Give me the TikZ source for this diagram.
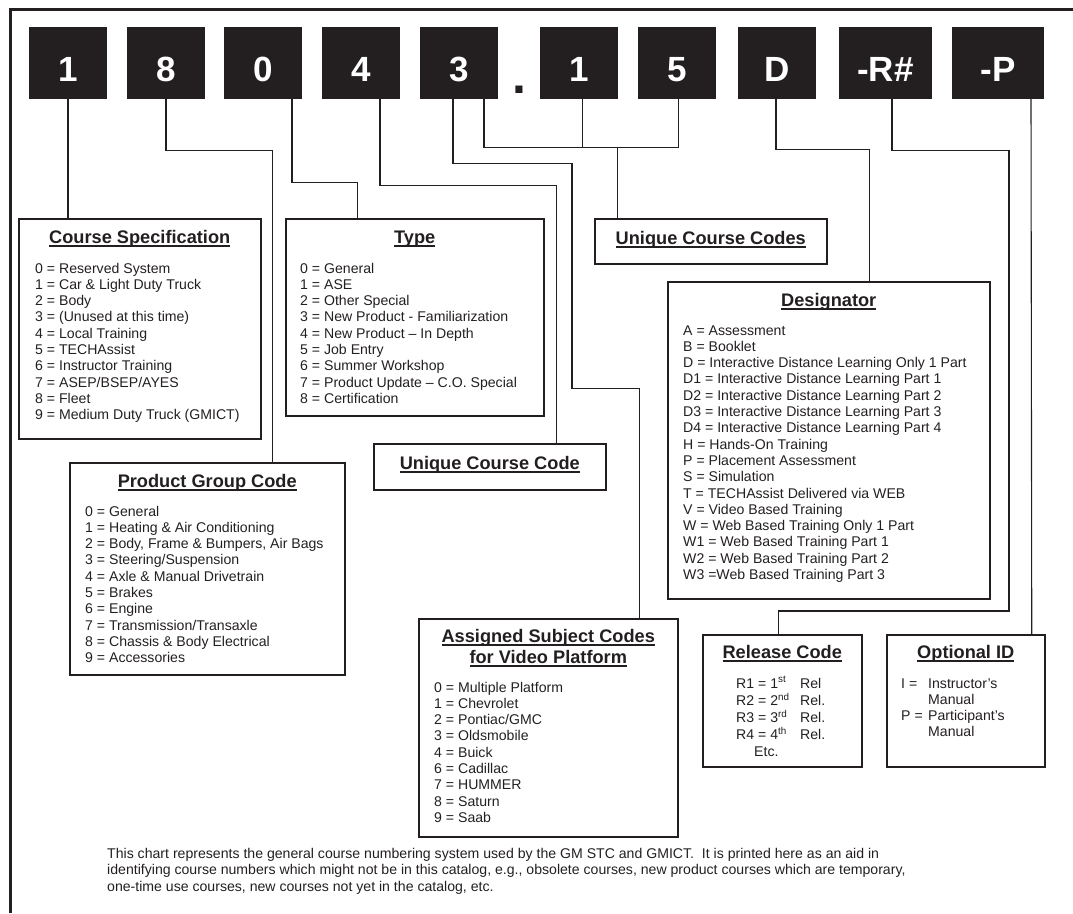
\documentclass[tikz,border=0pt]{standalone}
\usepackage{fontspec}
\setmainfont{Liberation Sans}
\definecolor{ink}{RGB}{35,31,32}
\newsavebox\headbox
\newcommand{\headline}[1]{\sbox\headbox{#1}\rlap{\rule[-3.6pt]{\wd\headbox}{1.4pt}}\usebox\headbox}
\begin{document}
\begin{tikzpicture}[x=1pt,y=-1pt,
    digit/.style={fill=ink,text=white,minimum width=78,minimum height=72,inner sep=0pt,text height=36pt,text depth=0pt,font=\fontsize{35}{40}\selectfont\bfseries},
    info/.style={draw=ink,line width=1.5pt,anchor=north west,inner sep=0pt},
    head/.style={anchor=base,inner sep=0pt,text=ink,font=\fontsize{18.2}{21}\selectfont\bfseries},
    items/.style={anchor=base west,inner sep=0pt,text=ink,font=\fontsize{14.1}{16.3}\selectfont},
    link/.style={draw=ink,line width=1.1pt}]
    \useasboundingbox (0,0) rectangle (1073,913);
    \draw[ink,line width=3.5pt] (10.5,913) -- (10.5,9.5) -- (1073,9.5);
    \node[digit] (d1) at (68,63) {1};
    \node[digit] (d8) at (166,63) {8};
    \node[digit] (d0) at (263,63) {0};
    \node[digit] (d4) at (361,63) {4};
    \node[digit] (d3) at (459,63) {3};
    \node[anchor=base,inner sep=0pt,text=ink,font=\fontsize{50}{50}\selectfont\bfseries] (dot) at (519,93) {.};
    \node[digit] (e1) at (579,63) {1};
    \node[digit] (e5) at (677,63) {5};
    \node[digit] (dD) at (777,63) {D};
    \node[digit,minimum width=93] (dR) at (885.5,63) {-R\#};
    \node[digit,minimum width=92] (dP) at (998,63) {-P};
    \node[info,minimum width=242,minimum height=220] (spec) at (18,218) {};
    \node[head] (spechead) at ([yshift=-25pt]spec.north) {\headline{Course Specification}};
    \node[items] (speclist) at ([xshift=17pt,yshift=-55pt]spec.north west) {\begin{tabular}[t]{@{}l@{}}
        0 = Reserved System\\
        1 = Car \& Light Duty Truck\\
        2 = Body\\
        3 = (Unused at this time)\\
        4 = Local Training\\
        5 = TECHAssist\\
        6 = Instructor Training\\
        7 = ASEP/BSEP/AYES\\
        8 = Fleet\\
        9 = Medium Duty Truck (GMICT)
    \end{tabular}};
    \node[info,minimum width=258,minimum height=197] (type) at (285,218) {};
    \node[head] (typehead) at ([yshift=-25pt]type.north) {\headline{Type}};
    \node[items] (typelist) at ([xshift=15pt,yshift=-55pt]type.north west) {\begin{tabular}[t]{@{}l@{}}
        0 = General\\
        1 = ASE\\
        2 = Other Special\\
        3 = New Product - Familiarization\\
        4 = New Product – In Depth\\
        5 = Job Entry\\
        6 = Summer Workshop\\
        7 = Product Update – C.O. Special\\
        8 = Certification
    \end{tabular}};
    \node[info,minimum width=232,minimum height=45] (codes) at (594,218) {};
    \node[head] (codeshead) at ([yshift=-26pt]codes.north) {\headline{Unique Course Codes}};
    \node[info,minimum width=232,minimum height=46] (ucc) at (373,443) {};
    \node[head] (ucchead) at ([yshift=-26pt]ucc.north) {\headline{Unique Course Code}};
    \node[info,minimum width=275,minimum height=212] (prod) at (69,462) {};
    \node[head] (prodhead) at ([yshift=-25pt]prod.north) {\headline{Product Group Code}};
    \node[items] (prodlist) at ([xshift=16pt,yshift=-54pt]prod.north west) {\begin{tabular}[t]{@{}l@{}}
        0 = General\\
        1 = Heating \& Air Conditioning\\
        2 = Body, Frame \& Bumpers, Air Bags\\
        3 = Steering/Suspension\\
        4 = Axle \& Manual Drivetrain\\
        5 = Brakes\\
        6 = Engine\\
        7 = Transmission/Transaxle\\
        8 = Chassis \& Body Electrical\\
        9 = Accessories
    \end{tabular}};
    \node[info,minimum width=322,minimum height=317] (desig) at (667,281) {};
    \node[head] (desighead) at ([yshift=-25pt]desig.north) {\headline{Designator}};
    \node[items] (desiglist) at ([xshift=16pt,yshift=-54pt]desig.north west) {\begin{tabular}[t]{@{}l@{}}
        A = Assessment\\
        B = Booklet\\
        D = Interactive Distance Learning Only 1 Part\\
        D1 = Interactive Distance Learning Part 1\\
        D2 = Interactive Distance Learning Part 2\\
        D3 = Interactive Distance Learning Part 3\\
        D4 = Interactive Distance Learning Part 4\\
        H = Hands-On Training\\
        P = Placement Assessment\\
        S = Simulation\\
        T = TECHAssist Delivered via WEB\\
        V = Video Based Training\\
        W = Web Based Training Only 1 Part\\
        W1 = Web Based Training Part 1\\
        W2 = Web Based Training Part 2\\
        W3 =Web Based Training Part 3
    \end{tabular}};
    \node[info,minimum width=259,minimum height=218] (subj) at (418,618) {};
    \node[head] (subjhead) at ([yshift=-24pt]subj.north) {\begin{tabular}[t]{@{}c@{}}\headline{Assigned Subject Codes}\\ \headline{for Video Platform}\end{tabular}};
    \node[items] (subjlist) at ([xshift=16pt,yshift=-74pt]subj.north west) {\begin{tabular}[t]{@{}l@{}}
        0 = Multiple Platform\\
        1 = Chevrolet\\
        2 = Pontiac/GMC\\
        3 = Oldsmobile\\
        4 = Buick\\
        6 = Cadillac\\
        7 = HUMMER\\
        8 = Saturn\\
        9 = Saab
    \end{tabular}};
    \node[info,minimum width=159,minimum height=132] (rel) at (702,634) {};
    \node[head] (relhead) at ([yshift=-24pt]rel.north) {\headline{Release Code}};
    \node[items] (rellist) at ([xshift=34pt,yshift=-54pt]rel.north west) {\begin{tabular}[t]{@{}p{64pt}@{}l@{}}
        R1 = 1\textsuperscript{st} & Rel\\
        R2 = 2\textsuperscript{nd} & Rel.\\
        R3 = 3\textsuperscript{rd} & Rel.\\
        R4 = 4\textsuperscript{th} & Rel.\\
        \hspace*{18pt}Etc. &
    \end{tabular}};
    \node[info,minimum width=158,minimum height=132] (opt) at (886,634) {};
    \node[head] (opthead) at ([yshift=-24pt]opt.north) {\headline{Optional ID}};
    \node[items] (optlist) at ([xshift=15pt,yshift=-54pt]opt.north west) {\begin{tabular}[t]{@{}p{27pt}@{}l@{}}
        I = & Instructor’s\\
            & Manual\\
        P = & Participant’s\\
            & Manual
    \end{tabular}};
    \node[items,font=\fontsize{14.1}{16.5}\selectfont] (note) at (107,858) {\begin{tabular}[t]{@{}l@{}}
        This chart represents the general course numbering system used by the GM STC and GMICT.\ \ It is printed here as an aid in\\
        identifying course numbers which might not be in this catalog, e.g., obsolete courses, new product courses which are temporary,\\
        one-time use courses, new courses not yet in the catalog, etc.
    \end{tabular}};
    \draw[link] (d1.south) -- (d1.south |- spec.north);
    \draw[link] (d8.south) -- ++(0,51) -| ([xshift=65.5pt]prod.north);
    \draw[link] ([xshift=29pt]d0.south) -- ++(0,83) -| ([xshift=-57pt]type.north);
    \draw[link] ([xshift=19pt]d4.south) -- ++(0,86) -| ([xshift=67pt]ucc.north);
    \draw[link] ([xshift=-6pt]d3.south) -- ++(0,64) -- ++(119,0) -- ++(0,225) -| ([xshift=91.5pt]subj.north);
    \draw[link] ([xshift=25pt]d3.south) -- ++(0,48) -| ([xshift=1.5pt]e5.south);
    \draw[link] ([xshift=3.5pt]e1.south) -- ++(0,48);
    \draw[link] ([xshift=-93pt]codes.north) -- ++(0,-71);
    \draw[link] ([xshift=-1pt]dD.south) -- ++(0,50) -| ([xshift=41pt]desig.north);
    \draw[link] ([xshift=6.5pt]dR.south) -- ++(0,51) -- ++(117,0) |- ([xshift=-3.5pt,yshift=23pt]rel.north) -- ([xshift=-3.5pt]rel.north);
    \draw[link] ([xshift=33pt]dP.south) -- ([xshift=66pt]opt.north);
\end{tikzpicture}
\end{document}
